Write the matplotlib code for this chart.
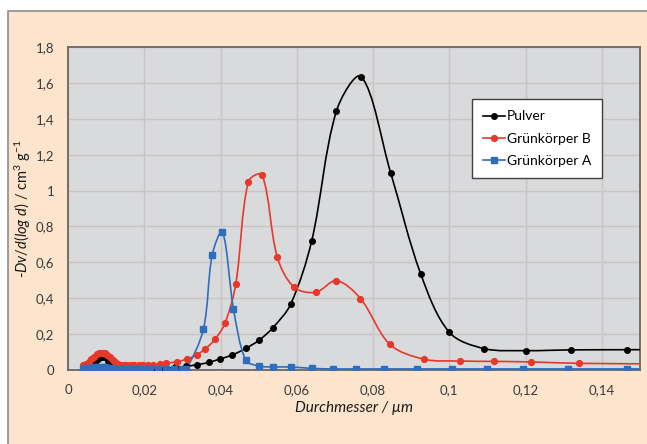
import numpy as np
import matplotlib
matplotlib.use("Agg")
import matplotlib.pyplot as plt
from matplotlib.path import Path
from matplotlib.patches import PathPatch, Rectangle
from matplotlib.lines import Line2D

plt.rcParams['font.family'] = ['Lato', 'DejaVu Sans']
plt.rcParams['mathtext.fontset'] = 'custom'
plt.rcParams['mathtext.rm'] = 'Lato'
plt.rcParams['mathtext.it'] = 'Lato:italic'

# ---------------- data ----------------
pulver_x = [0.0043, 0.0052, 0.0061, 0.0070, 0.0079, 0.0088, 0.0097, 0.0106, 0.0116, 0.0127,
            0.0139, 0.0152, 0.0167, 0.0184, 0.0204, 0.0227, 0.0253, 0.0280, 0.0309, 0.0339,
            0.0369, 0.0399, 0.0430, 0.0466, 0.0501, 0.0537, 0.0584, 0.0639, 0.0704, 0.0769,
            0.0846, 0.0925, 0.1000, 0.1092, 0.1200, 0.1319, 0.1465, 0.1630]
pulver_y = [0.024, 0.022, 0.030, 0.045, 0.060, 0.072, 0.070, 0.052, 0.030, 0.015,
            0.008, 0.005, 0.004, 0.004, 0.005, 0.007, 0.010, 0.014, 0.020, 0.030,
            0.042, 0.062, 0.083, 0.120, 0.166, 0.235, 0.367, 0.719, 1.444, 1.635,
            1.100, 0.535, 0.210, 0.119, 0.108, 0.112, 0.113, 0.114]

gruenB_x = [0.0040, 0.0047, 0.0054, 0.0061, 0.0068, 0.0075, 0.0082, 0.0089, 0.0096, 0.0103,
            0.0110, 0.0117, 0.0124, 0.0131, 0.0138, 0.0146, 0.0155, 0.0164, 0.0174, 0.0185,
            0.0197, 0.0210, 0.0224, 0.0240, 0.0258, 0.0285, 0.0311, 0.0337, 0.0359, 0.0385,
            0.0412, 0.0440, 0.0473, 0.0509, 0.0549, 0.0593, 0.0650, 0.0704, 0.0767, 0.0844,
            0.0934, 0.1027, 0.1117, 0.1213, 0.1341, 0.1600]
gruenB_y = [0.028, 0.035, 0.045, 0.060, 0.075, 0.088, 0.095, 0.097, 0.095, 0.085,
            0.070, 0.055, 0.043, 0.035, 0.030, 0.028, 0.027, 0.027, 0.027, 0.028,
            0.028, 0.029, 0.030, 0.032, 0.037, 0.047, 0.060, 0.084, 0.116, 0.170,
            0.262, 0.480, 1.050, 1.087, 0.628, 0.461, 0.433, 0.498, 0.398, 0.143,
            0.060, 0.050, 0.048, 0.045, 0.037, 0.034]

gruenA_x = [0.0040, 0.0048, 0.0056, 0.0064, 0.0072, 0.0080, 0.0088, 0.0096, 0.0104, 0.0113,
            0.0122, 0.0132, 0.0143, 0.0155, 0.0168, 0.0183, 0.0199, 0.0216, 0.0235, 0.0256,
            0.0278, 0.0298, 0.0310, 0.0355, 0.0378, 0.0405, 0.0434, 0.0466, 0.0501, 0.0538,
            0.0584, 0.0639, 0.0696, 0.0754, 0.0828, 0.0914, 0.1008, 0.1100, 0.1192, 0.1311,
            0.1465, 0.1600]
gruenA_y = [0.008, 0.010, 0.012, 0.013, 0.014, 0.015, 0.015, 0.014, 0.012, 0.010,
            0.008, 0.007, 0.006, 0.005, 0.005, 0.004, 0.004, 0.004, 0.003, 0.003,
            0.003, 0.003, 0.003, 0.227, 0.639, 0.771, 0.340, 0.055, 0.022, 0.017,
            0.017, 0.009, 0.006, 0.006, 0.006, 0.006, 0.006, 0.006, 0.006, 0.006,
            0.006, 0.006]

series_names = ["Pulver", "Grünkörper B", "Grünkörper A"]

x_ticks = [0, 0.02, 0.04, 0.06, 0.08, 0.10, 0.12, 0.14]
x_ticklabels = ["0", "0,02", "0,04", "0,06", "0,08", "0,1", "0,12", "0,14"]
y_ticks = [0, 0.2, 0.4, 0.6, 0.8, 1.0, 1.2, 1.4, 1.6, 1.8]
y_ticklabels = ["0", "0,2", "0,4", "0,6", "0,8", "1", "1,2", "1,4", "1,6", "1,8"]

x_label = "Durchmesser / µm"
y_label = "$\\mathit{\u2010Dv/d(log\\ d)}$ / cm$^{3}$ g$^{-1}$"

# ---------------- figure ----------------
W, H = 647, 444
fig = plt.figure(figsize=(W / 100, H / 100), dpi=100, facecolor="white")

# peach panel
panel = Rectangle((7.5 / W, -0.05), 1.1, 1 - 10.7 / H + 0.05, transform=fig.transFigure,
                  facecolor="#fde4cc", edgecolor="#8c8c8c", linewidth=1.2, zorder=-10)
fig.patches.append(panel)

ax_l, ax_r, ax_t, ax_b = 68, 640, 47, 370
ax = fig.add_axes([ax_l / W, (H - ax_b) / H, (ax_r - ax_l) / W, (ax_b - ax_t) / H])
ax.set_zorder(1)
ax.set_facecolor("#d9dadc")
ax.set_xlim(0, 0.15)
ax.set_ylim(0, 1.8)
for s in ax.spines.values():
    s.set_color("#6a6666")
    s.set_linewidth(1.3)

ax.set_xticks(x_ticks)
ax.set_xticklabels(x_ticklabels)
ax.set_yticks(y_ticks)
ax.set_yticklabels(y_ticklabels)
ax.tick_params(length=0, labelsize=9.5, colors="#3a3a3a", pad=10)
ax.tick_params(axis="x", pad=10)
ax.grid(True, color="#c9c4c4", linewidth=1.0)
ax.set_axisbelow(True)

ax.set_xlabel(x_label, fontsize=11, style="italic", color="#1a1a1a", labelpad=4)
ax.set_ylabel(y_label, fontsize=10.5, color="#1a1a1a", labelpad=2)


def smooth_path(xs, ys):
    """Spreadsheet-style smoothed line: cubic Bezier through the data points,
    tangents scaled by adjacent segment lengths in screen space."""
    pix = ax.transData.transform(np.column_stack([xs, ys]))
    n = len(pix)
    verts = [pix[0]]
    codes = [Path.MOVETO]
    for i in range(n - 1):
        p0 = pix[i - 1] if i > 0 else pix[i]
        p1 = pix[i]
        p2 = pix[i + 1]
        p3 = pix[i + 2] if i + 2 < n else pix[i + 1]
        d01 = np.hypot(*(p1 - p0))
        d12 = np.hypot(*(p2 - p1))
        d23 = np.hypot(*(p3 - p2))
        s1 = d12 / (3.0 * (d01 + d12)) if (d01 + d12) > 0 else 0.0
        s2 = d12 / (3.0 * (d12 + d23)) if (d12 + d23) > 0 else 0.0
        c1 = p1 + (p2 - p0) * s1
        c2 = p2 - (p3 - p1) * s2
        verts += [c1, c2, p2]
        codes += [Path.CURVE4] * 3
    data_verts = ax.transData.inverted().transform(np.array(verts))
    return Path(data_verts, codes)


styles = [
    (pulver_x, pulver_y, "#000000", "o", 4.0),
    (gruenB_x, gruenB_y, "#e8382c", "o", 4.2),
    (gruenA_x, gruenA_y, "#2f6ebc", "s", 3.8),
]
handles = []
for (xs, ys, col, mk, ms), name in zip(styles, series_names):
    patch = PathPatch(smooth_path(xs, ys), fill=False, edgecolor=col, linewidth=1.2,
                      transform=ax.transData, zorder=3)
    ax.add_patch(patch)
    ax.plot(xs, ys, linestyle="none", marker=mk, markersize=ms, color=col, zorder=4,
            clip_on=True)
    handles.append(Line2D([], [], color=col, linewidth=1.2, marker=mk, markersize=ms))

leg = ax.legend(handles, series_names, loc="upper left",
                bbox_to_anchor=((471.5 - ax_l) / (ax_r - ax_l), (ax_b - 99.3) / (ax_b - ax_t)),
                frameon=True, fancybox=False, framealpha=1.0, edgecolor="#404040",
                facecolor="white", fontsize=10, handlelength=1.6, handletextpad=0.15,
                borderpad=0.8, labelspacing=0.75, borderaxespad=0)
leg.get_frame().set_linewidth(1.0)

fig.savefig("out.png", dpi=100, facecolor=fig.get_facecolor())
